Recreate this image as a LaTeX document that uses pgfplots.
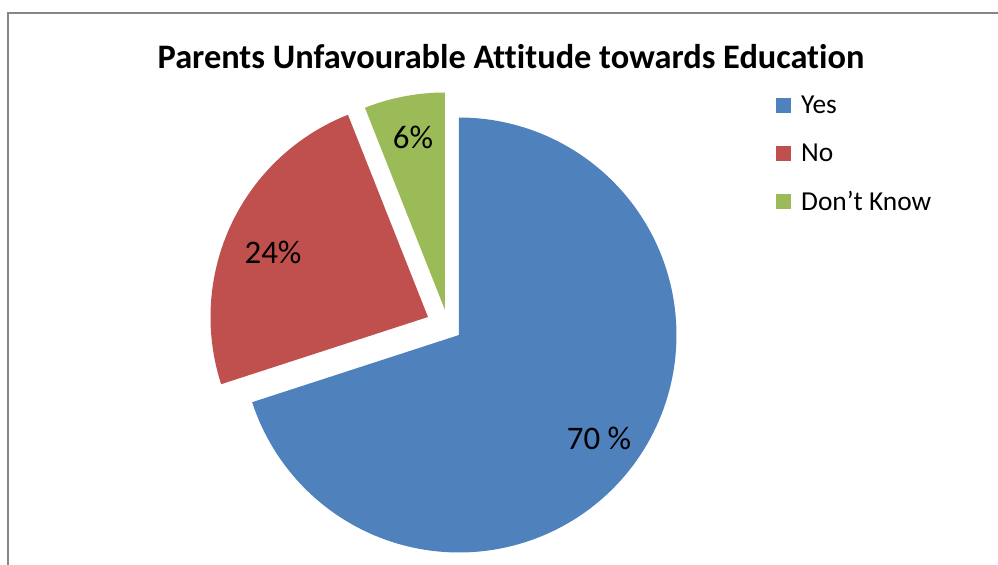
\documentclass[border=0pt]{standalone}
\usepackage{pgfplots}
\pgfplotsset{compat=1.18}
\usepackage{pgfplotstable}
\usepackage{fontspec}
\setmainfont{Carlito}[Ligatures={NoCommon}]
\definecolor{cYes}{HTML}{4F81BD}
\definecolor{cNo}{HTML}{C0504D}
\definecolor{cDK}{HTML}{9BBB59}
\definecolor{frame}{HTML}{868686}
% share (percent), apex x, apex y (in pixel units of the 998x565 frame)
\pgfplotstableread{
name share cx cy
Yes  70   459 230
No   24   428 248
DK   6    445 255
}\piedata
\begin{document}
\begin{tikzpicture}
\useasboundingbox (0,0) rectangle (998bp,565bp);
\pgfplotstablegetelem{0}{share}\of\piedata \let\sYes\pgfplotsretval
\pgfplotstablegetelem{1}{share}\of\piedata \let\sNo\pgfplotsretval
\pgfplotstablegetelem{2}{share}\of\piedata \let\sDK\pgfplotsretval
\pgfmathsetmacro{\aA}{90}
\pgfmathsetmacro{\aB}{90-3.6*\sYes}
\pgfmathsetmacro{\aC}{\aB-3.6*\sNo}
\pgfmathsetmacro{\aD}{\aC-3.6*\sDK}
\def\R{217.5}
\begin{axis}[
  at={(0,0)}, anchor=south west,
  scale only axis, width=998bp, height=565bp,
  xmin=0, xmax=998, ymin=0, ymax=565,
  hide axis, clip=false,
  legend cell align=left,
  legend image code/.code={\fill[#1] (0bp,-7.5bp) rectangle (15bp,7.5bp); \path (23bp,0bp);},
  legend style={at={(axis cs:773,473)}, anchor=north west, draw=none, fill=none,
    font=\fontsize{27.5}{30}\selectfont, row sep=24.5bp},
]
\addplot[fill=cYes, draw=none, domain=\aB:\aA, samples=150, variable=\t]
  ({459+\R*cos(t)},{230+\R*sin(t)}) -- (axis cs:459,230) -- cycle;
\addlegendentry{Yes}
\addplot[fill=cNo, draw=none, domain=\aC:\aB, samples=80, variable=\t]
  ({428+\R*cos(t)},{248+\R*sin(t)}) -- (axis cs:428,248) -- cycle;
\addlegendentry{No}
\addplot[fill=cDK, draw=none, domain=\aD:\aC, samples=30, variable=\t]
  ({445+\R*cos(t)},{255+\R*sin(t)}) -- (axis cs:445,255) -- cycle;
\addlegendentry{Don’t Know}
\node[font=\fontsize{33}{36}\selectfont] at (axis cs:599,127) {70 \%};
\node[font=\fontsize{33}{36}\selectfont] at (axis cs:273,313) {24\%};
\node[font=\fontsize{33}{36}\selectfont] at (axis cs:413,428) {6\%};
\node[font=\fontsize{34.5}{38}\selectfont\bfseries] at (axis cs:511,508) {Parents Unfavourable Attitude towards Education};
\draw[frame, line width=2.5bp] (axis cs:8,0) -- (axis cs:8,552) -- (axis cs:998,552);
\end{axis}
\end{tikzpicture}
\end{document}
